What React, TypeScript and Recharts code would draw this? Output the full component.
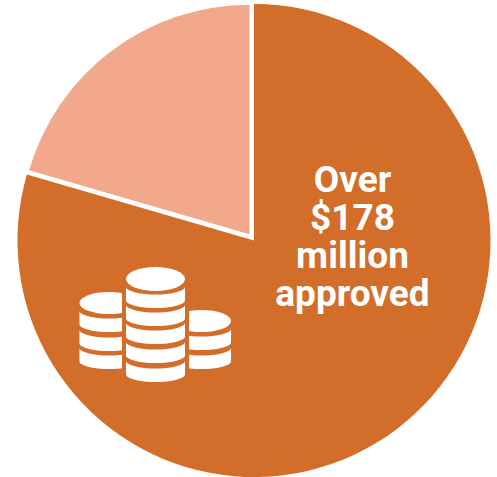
import React from 'react';
import { PieChart, Pie, Cell, Sector } from 'recharts';

const slices = ['Approved', 'Other'];
const sliceValues = [79.5, 20.5];
const sliceColors = ['#d26e2a', '#f2a88b'];
const textLines = ['Over', '$178', 'million', 'approved'];

// the light slice sits pulled out of the pie and a little smaller
const renderSlice = (props: any) =>
  props.name === 'Other' ? (
    <Sector {...props} cx={props.cx - 4.5} cy={props.cy - 6.2} outerRadius={229.5} stroke="none" />
  ) : (
    <Sector {...props} stroke="none" />
  );

// one coin: flat ellipse on top, or a curved band for the ones under it
const CoinBand = ({ cx, y, rx }: { cx: number; y: number; rx: number }) => (
  <path
    d={`M${cx - rx} ${y} A${rx} 7.5 0 0 0 ${cx + rx} ${y} V${y + 13.5} A${rx} 7.5 0 0 1 ${cx - rx} ${y + 13.5} Z`}
    fill="#fff"
  />
);

const CoinStack = ({ cx, top, rx, ry, bands, clip }: { cx: number; top: number; rx: number; ry: number; bands: number[]; clip?: string }) => (
  <g clipPath={clip}>
    <ellipse cx={cx} cy={top} rx={rx} ry={ry} fill="#fff" />
    {bands.map((y) => (
      <CoinBand key={y} cx={cx} y={y} rx={rx} />
    ))}
  </g>
);

const App = () => {
  const data = slices.map((name, i) => ({ name, value: sliceValues[i] }));

  return (
    <div style={{ position: 'fixed', left: 0, top: 0, width: 497, height: 477, background: '#fff' }}>
      <PieChart width={497} height={477} margin={{ top: 0, right: 0, bottom: 0, left: 0 }}>
        <Pie
          data={data}
          dataKey="value"
          cx={254}
          cy={240.5}
          innerRadius={0}
          outerRadius={236.5}
          startAngle={90}
          endAngle={-270}
          shape={renderSlice}
          isAnimationActive={false}
        >
          {data.map((d, i) => (
            <Cell key={d.name} fill={sliceColors[i]} />
          ))}
        </Pie>
      </PieChart>
      <svg width={497} height={477} style={{ position: 'absolute', left: 0, top: 0 }}>
        <text textAnchor="middle" fill="#fff" fontFamily="Roboto, sans-serif" fontWeight={700} fontSize={37}>
          {textLines.map((line, i) => (
            <tspan key={line} x={352.5} y={192 + i * 38}>
              {line}
            </tspan>
          ))}
        </text>
        <defs>
          <clipPath id="leftStack">
            <rect x={70} y={280} width={52} height={100} />
          </clipPath>
          <clipPath id="rightStack">
            <rect x={189} y={300} width={50} height={80} />
          </clipPath>
        </defs>
        <CoinStack cx={109} top={303} rx={29.5} ry={11} bands={[311, 330, 348]} clip="url(#leftStack)" />
        <CoinStack cx={201.5} top={321} rx={29.5} ry={11} bands={[329, 348]} clip="url(#rightStack)" />
        <CoinStack cx={155.5} top={279} rx={29.5} ry={12} bands={[287, 305, 323, 342, 361]} />
      </svg>
    </div>
  );
};

export default App;
